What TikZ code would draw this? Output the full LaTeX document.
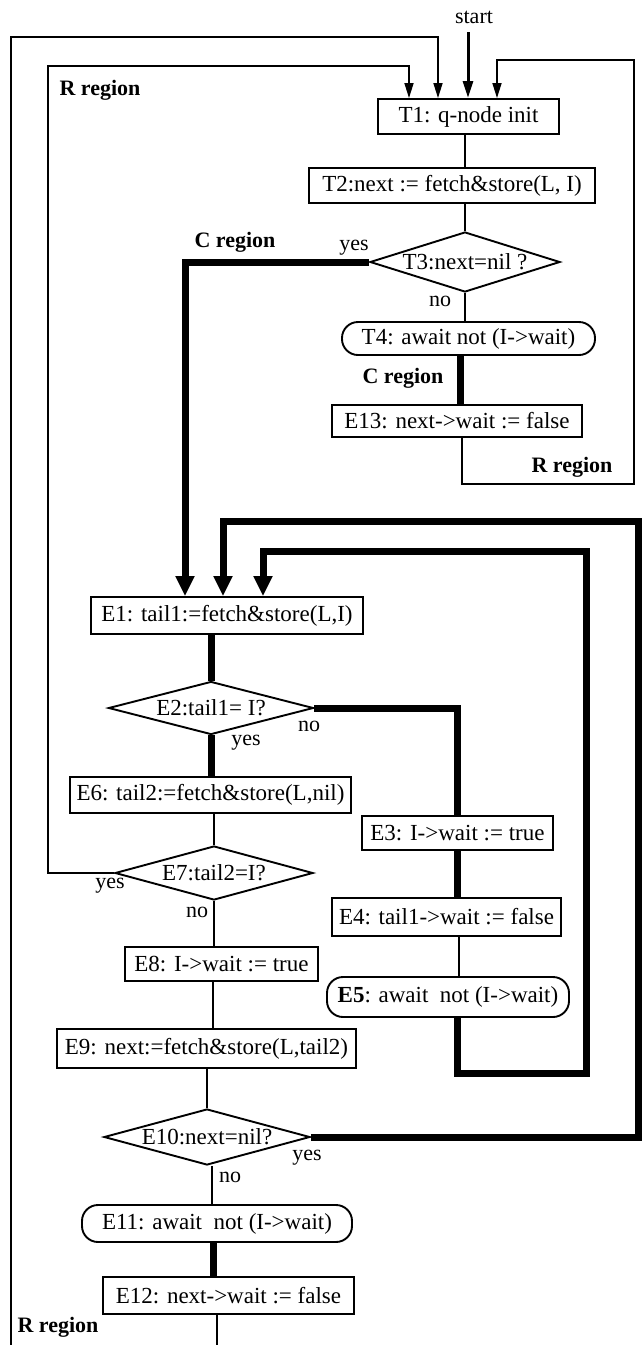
\documentclass[tikz,border=0pt]{standalone}
\usepackage{fontspec}
\setmainfont{Liberation Serif}
\usetikzlibrary{arrows.meta,shapes.geometric}
\begin{document}
\begin{tikzpicture}[x=1pt,y=-1pt,
  box/.style={draw,line width=1.9pt,rectangle,inner sep=0pt,font=\fontsize{23}{27}\selectfont},
  rbox/.style={box,rounded corners=16pt},
  dia/.style={draw,line width=1.9pt,diamond,inner sep=0pt},
  dtext/.style={inner sep=0pt,font=\fontsize{23}{27}\selectfont},
  lbl/.style={inner sep=0pt,font=\fontsize{22}{26}\selectfont},
  reg/.style={inner sep=0pt,font=\fontsize{22}{26}\selectfont\bfseries},
  tline/.style={line width=1.6pt},
  kline/.style={line width=7pt},
  tarr/.style={tline,-{Triangle[width=9pt,length=15pt]}},
  sarr/.style={line width=3pt,-{Triangle[width=10pt,length=17pt]}},
  karr/.style={kline,-{Triangle[width=18pt,length=20pt]}},
]
\useasboundingbox (0,0) rectangle (641,1345);

% ---- nodes ----
\node[box,minimum width=181pt,minimum height=35pt] (t1) at (468.5,116.5) {T1: q-node init};
\node[box,minimum width=286pt,minimum height=35pt] (t2) at (452,185.5) {T2:next := fetch\&store(L, I)};
\node[dia,minimum width=190pt,minimum height=60pt] (t3) at (465,262) {};
\node[dtext] (t3t) at (t3.center) {T3:next=nil ?};
\node[rbox,minimum width=253pt,minimum height=33pt] (t4) at (468.5,338.5) {T4: await not (I->wait)};
\node[box,minimum width=250pt,minimum height=32pt] (e13) at (457,421) {E13: next->wait := false};

\node[box,minimum width=272pt,minimum height=37pt] (e1) at (227,615.5) {E1: tail1:=fetch\&store(L,I)};
\node[dia,minimum width=205pt,minimum height=53pt] (e2) at (211,708) {};
\node[dtext] (e2t) at (e2.center) {E2:tail1= I?};
\node[box,minimum width=281pt,minimum height=36pt] (e6) at (210.5,795) {E6: tail2:=fetch\&store(L,nil)};
\node[box,minimum width=191pt,minimum height=34pt] (e3) at (457.5,833) {E3: I->wait := true};
\node[dia,minimum width=198pt,minimum height=54pt] (e7) at (214,873) {};
\node[dtext] (e7t) at (e7.center) {E7:tail2=I?};
\node[box,minimum width=229pt,minimum height=38pt] (e4) at (446.5,917) {E4: tail1->wait := false};
\node[box,minimum width=193pt,minimum height=34pt] (e8) at (221.5,964) {E8: I->wait := true};
\node[rbox,minimum width=242pt,minimum height=40pt] (e5) at (448,997) {\textbf{E5}: await~ not (I->wait)};
\node[box,minimum width=299pt,minimum height=39pt] (e9) at (206.5,1048.5) {E9: next:=fetch\&store(L,tail2)};
\node[dia,minimum width=206pt,minimum height=56pt] (e10) at (207,1137) {};
\node[dtext] (e10t) at (e10.center) {E10:next=nil?};
\node[rbox,minimum width=270pt,minimum height=37pt] (e11) at (217,1223.5) {E11: await~ not (I->wait)};
\node[box,minimum width=251pt,minimum height=37pt] (e12) at (228.5,1295.5) {E12: next->wait := false};

% ---- labels ----
\node[lbl] (start) at (474,17) {start};
\node[reg] (r1) at (100,90) {R region};
\node[reg] (c1) at (235,242) {C region};
\node[lbl] (y3) at (354,248) {yes};
\node[lbl] (n3) at (440,301) {no};
\node[reg] (c2) at (403,378) {C region};
\node[reg] (r2) at (572,467) {R region};
\node[lbl] (n2) at (309,726) {no};
\node[lbl] (y2) at (246,743) {yes};
\node[lbl] (y7) at (110,886) {yes};
\node[lbl] (n7) at (197,912) {no};
\node[lbl] (y10) at (307,1158) {yes};
\node[lbl] (n10) at (230,1177) {no};
\node[reg] (r3) at (58,1327) {R region};

% ---- free ends ----
\coordinate (st) at (468,32);
\coordinate (ob) at (11,1345);
\coordinate (eb) at (217,1345);

% ---- thin connectors ----
\draw[sarr] (st) -- (t1.north -| st);
\draw[tarr] (ob) -- (11,37) -| (t1.north -| 438,0);
\draw[tarr] (e7.west) -| (48,66) -| (t1.north -| 409,0);
\draw[tarr] (e13.south -| 462,0) |- (634,484) |- (497,60) -- (t1.north -| 497,0);
\draw[tline] (t1.south -| 465,0) -- (t2.north -| 465,0);
\draw[tline] (t2.south -| t3.north) -- (t3.north);
\draw[tline] (t3.south) -- (t4.north -| t3.south);
\draw[tline] (e6.south -| e7.north) -- (e7.north);
\draw[tline] (e7.south) -- (e8.north -| e7.south);
\draw[tline] (e8.south -| 213,0) -- (e9.north -| 213,0);
\draw[tline] (e9.south -| e10.north) -- (e10.north);
\draw[tline] (e10.south -| 212,0) -- (e11.north -| 212,0);
\draw[tline] (e4.south -| 459,0) -- (e5.north -| 459,0);
\draw[tline] (e12.south -| eb) -- (eb);

% ---- thick connectors ----
\draw[karr] (t3.west) -| (e1.north -| 185,0);
\draw[kline] (t4.south -| 460,0) -- (e13.north -| 460,0);
\draw[kline] (e1.south -| e2.north) -- (e2.north);
\draw[kline] (e2.south) -- (e6.north -| e2.south);
\draw[kline] (e2.east) -| (e3.north);
\draw[kline] (e3.south) -- (e4.north -| e3.south);
\draw[karr] (e5.south -| 457,0) |- (586,1073) -- (586,551) -| (e1.north -| 263,0);
\draw[karr] (e10.east) -| (638,521) -| (e1.north -| 223,0);
\draw[kline] (e11.south -| 213,0) -- (e12.north -| 213,0);
\end{tikzpicture}
\end{document}
